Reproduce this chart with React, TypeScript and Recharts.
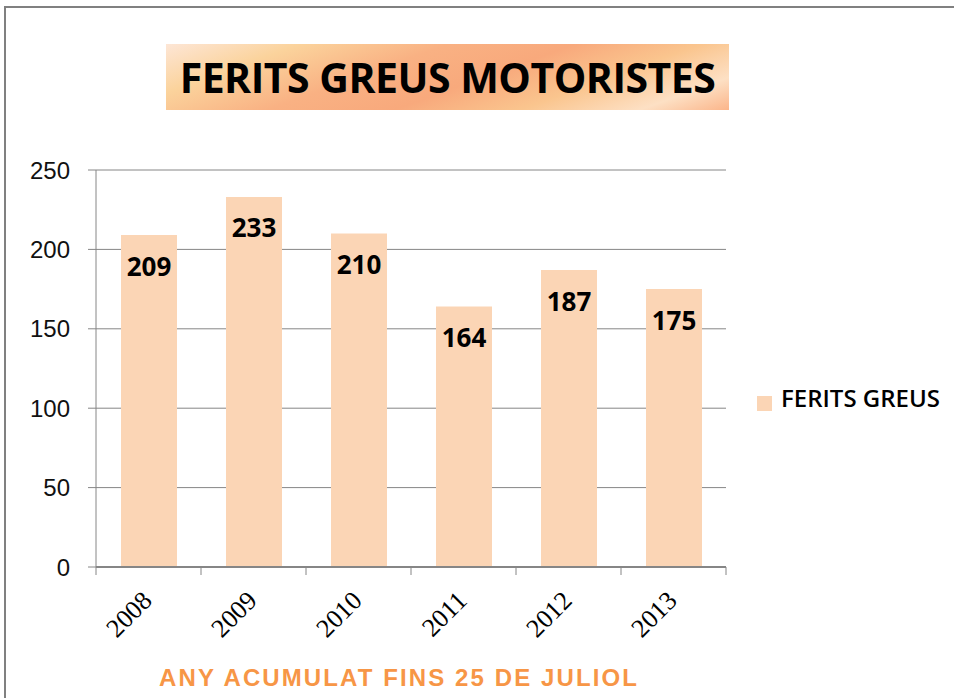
import { Bar, BarChart, CartesianGrid, LabelList, Legend, XAxis, YAxis } from 'recharts';

const years = ['2008', '2009', '2010', '2011', '2012', '2013'];
const feritsGreus = [209, 233, 210, 164, 187, 175];
const yTicks = [0, 50, 100, 150, 200, 250];

const data = years.map((year, i) => ({ year, value: feritsGreus[i] }));

const W = 954;
const H = 698;
const PLOT_LEFT = 96;
const PLOT_RIGHT = 726;
const PLOT_TOP = 170;
const PLOT_BOTTOM = 567;
const BAND = (PLOT_RIGHT - PLOT_LEFT) / years.length;

const AXIS = '#868686';

function YearTick(props: any) {
  const { x, y, payload, index } = props;
  const tx = x + 5;
  const ty = y + 35;
  return (
    <g>
      <line x1={x - BAND / 2} y1={y} x2={x - BAND / 2} y2={y + 8} stroke={AXIS} strokeWidth={1} />
      {index === years.length - 1 && (
        <line x1={x + BAND / 2} y1={y} x2={x + BAND / 2} y2={y + 8} stroke={AXIS} strokeWidth={1} />
      )}
      <text
        x={tx}
        y={ty}
        textAnchor="end"
        transform={`rotate(-45 ${tx} ${ty})`}
        fontFamily="'Liberation Serif', serif"
        fontSize={26}
        fill="#000"
      >
        {payload.value}
      </text>
    </g>
  );
}

export default function App() {
  return (
    <div style={{ position: 'absolute', left: 0, top: 0, width: W, height: H, overflow: 'hidden', background: '#fff' }}>
      <div
        style={{
          position: 'absolute',
          left: 4,
          top: 6,
          width: W + 20,
          height: H + 20,
          borderLeft: '2px solid #808080',
          borderTop: '2px solid #808080',
        }}
      />
      <div
        style={{
          position: 'absolute',
          left: 166,
          top: 44,
          width: 563,
          height: 66,
          background:
            'linear-gradient(160deg, #fde6d6 0%, #fbd39c 18%, #f9b183 38%, #f8a97c 55%, #fac58e 72%, #fde0c4 88%, #fbb58a 100%)',
          display: 'flex',
          alignItems: 'center',
          justifyContent: 'center',
          fontFamily: "'Open Sans', sans-serif",
          fontWeight: 700,
          fontSize: 41,
          color: '#000',
          letterSpacing: -0.5,
        }}
      >
        FERITS GREUS MOTORISTES
      </div>
      <BarChart
        width={W}
        height={H}
        data={data}
        margin={{ top: PLOT_TOP, right: W - PLOT_RIGHT, bottom: H - PLOT_BOTTOM - 30, left: PLOT_LEFT - 60 }}
        barSize={56}
      >
        <CartesianGrid horizontal vertical={false} stroke={AXIS} strokeWidth={1} />
        <XAxis
          dataKey="year"
          height={30}
          axisLine={{ stroke: AXIS, strokeWidth: 2 }}
          tickLine={false}
          tickSize={0}
          tickMargin={0}
          tick={<YearTick />}
          interval={0}
        />
        <YAxis
          width={60}
          domain={[0, 250]}
          ticks={yTicks}
          axisLine={{ stroke: AXIS, strokeWidth: 1 }}
          tickLine={{ stroke: AXIS }}
          tickSize={8}
          tickMargin={18}
          tick={{ fontFamily: "'Liberation Sans', sans-serif", fontSize: 24, fill: '#111' }}
        />
        <Legend
          layout="vertical"
          align="center"
          verticalAlign="middle"
          iconType="square"
          iconSize={15}
          wrapperStyle={{ left: 757, top: 381, width: 200 }}
          formatter={(v: string) => (
            <span
              style={{
                color: '#000',
                fontFamily: "'Open Sans', sans-serif",
                fontWeight: 600,
                fontSize: 24,
                marginLeft: 5,
              }}
            >
              {v}
            </span>
          )}
        />
        <Bar dataKey="value" name="FERITS GREUS" fill="#FBD5B5" isAnimationActive={false}>
          <LabelList
            dataKey="value"
            position="insideTop"
            offset={22}
            fill="#000"
            fontFamily="'Open Sans', sans-serif"
            fontWeight={700}
            fontSize={26}
          />
        </Bar>
      </BarChart>
      <div
        style={{
          position: 'absolute',
          left: 0,
          width: 798,
          top: 664,
          textAlign: 'center',
          fontFamily: "'Liberation Sans', Arial, sans-serif",
          fontWeight: 700,
          fontSize: 24,
          letterSpacing: 2.1,
          color: '#F79646',
        }}
      >
        ANY ACUMULAT FINS 25 DE JULIOL
      </div>
    </div>
  );
}
